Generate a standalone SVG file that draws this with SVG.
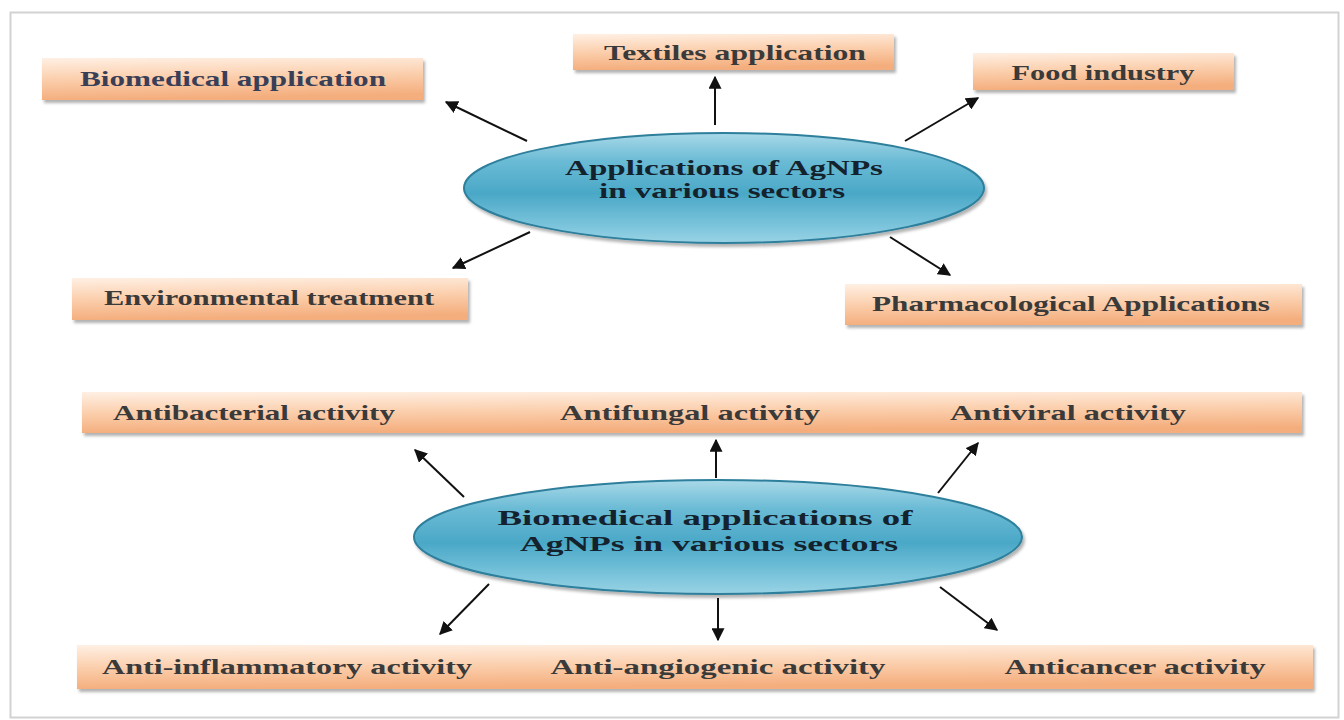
<svg xmlns="http://www.w3.org/2000/svg" width="1344" height="720" viewBox="0 0 1344 720">
<defs>
<linearGradient id="boxg" x1="0" y1="0" x2="0.15" y2="1">
<stop offset="0" stop-color="#fff0e4"/>
<stop offset="0.5" stop-color="#fbcfad"/>
<stop offset="1" stop-color="#f4ad7c"/>
</linearGradient>
<linearGradient id="ellg" x1="0" y1="0" x2="0" y2="1">
<stop offset="0" stop-color="#a9d9e8"/>
<stop offset="0.25" stop-color="#6bbbd5"/>
<stop offset="0.55" stop-color="#4aa8c7"/>
<stop offset="0.85" stop-color="#7cc5dc"/>
<stop offset="1" stop-color="#9ad3e4"/>
</linearGradient>
<filter id="sh" x="-5%" y="-20%" width="110%" height="150%">
<feDropShadow dx="2" dy="3" stdDeviation="1.5" flood-color="#000" flood-opacity="0.3"/>
</filter>
<marker id="ah" viewBox="0 0 10 10" refX="9" refY="5" markerWidth="6.5" markerHeight="6.5" markerUnits="strokeWidth" orient="auto">
<path d="M0,0 L10,5 L0,10 z" fill="#111"/>
</marker>
<style>
.box{fill:url(#boxg);filter:url(#sh)}
.ell{fill:url(#ellg);stroke:#2f7f9c;stroke-width:2;filter:url(#sh)}
.t{font-family:"Liberation Serif","Times New Roman",serif;font-weight:bold;font-size:22px;fill:#3a3a3a;text-anchor:middle}
.et{font-family:"Liberation Serif","Times New Roman",serif;font-weight:bold;font-size:22px;fill:#14222e;text-anchor:middle}
.c line{stroke:#111;stroke-width:2;marker-end:url(#ah)}
</style>
</defs>
<rect x="0" y="0" width="1344" height="720" fill="#ffffff"/>
<rect x="10.5" y="12.5" width="1328" height="705" fill="#ffffff" stroke="#d2d2d2" stroke-width="2"/>

<g id="n-biomedical"><rect class="box" x="42" y="58" width="381" height="42"/><text class="t" x="233" y="86" textLength="306" lengthAdjust="spacingAndGlyphs" style="fill:#3a3f58">Biomedical application</text></g>
<g id="n-textiles"><rect class="box" x="573" y="34" width="321" height="36"/><text class="t" x="735" y="60" textLength="262" lengthAdjust="spacingAndGlyphs">Textiles application</text></g>
<g id="n-food"><rect class="box" x="973" y="53" width="261" height="37"/><text class="t" x="1103" y="80" textLength="183" lengthAdjust="spacingAndGlyphs">Food industry</text></g>
<g id="n-env"><rect class="box" x="72" y="278" width="396" height="42"/><text class="t" x="269" y="305" textLength="330" lengthAdjust="spacingAndGlyphs">Environmental treatment</text></g>
<g id="n-pharma"><rect class="box" x="845" y="284" width="457" height="41"/><text class="t" x="1071" y="311" textLength="398" lengthAdjust="spacingAndGlyphs">Pharmacological Applications</text></g>

<g id="n-center1"><ellipse class="ell" cx="724" cy="188" rx="260" ry="55"/><text class="et" x="724" y="175" textLength="318" lengthAdjust="spacingAndGlyphs">Applications of AgNPs</text><text class="et" x="722" y="198" textLength="246" lengthAdjust="spacingAndGlyphs">in various sectors</text></g>

<g id="n-row1"><rect class="box" x="82" y="392" width="1220" height="41"/>
<text class="t" x="254" y="420" textLength="282" lengthAdjust="spacingAndGlyphs">Antibacterial activity</text>
<text class="t" x="690" y="420" textLength="260" lengthAdjust="spacingAndGlyphs">Antifungal activity</text>
<text class="t" x="1068" y="420" textLength="236" lengthAdjust="spacingAndGlyphs">Antiviral activity</text></g>

<g id="n-center2"><ellipse class="ell" cx="718" cy="537" rx="304" ry="57"/><text class="et" x="705" y="525" textLength="415" lengthAdjust="spacingAndGlyphs">Biomedical applications of</text><text class="et" x="709" y="551" textLength="378" lengthAdjust="spacingAndGlyphs">AgNPs in various sectors</text></g>

<g id="n-row2"><rect class="box" x="77" y="645" width="1236" height="44"/>
<text class="t" x="287" y="674" textLength="370" lengthAdjust="spacingAndGlyphs">Anti-inflammatory activity</text>
<text class="t" x="718" y="674" textLength="335" lengthAdjust="spacingAndGlyphs">Anti-angiogenic activity</text>
<text class="t" x="1135" y="674" textLength="261" lengthAdjust="spacingAndGlyphs">Anticancer activity</text></g>

<g id="connectors" class="c">
<line x1="527" y1="141" x2="446" y2="102"/>
<line x1="715" y1="125" x2="715" y2="77"/>
<line x1="905" y1="141" x2="978" y2="98"/>
<line x1="530" y1="232" x2="453" y2="268"/>
<line x1="890" y1="237" x2="950" y2="275"/>
<line x1="464" y1="497" x2="415" y2="450"/>
<line x1="716" y1="478" x2="716" y2="440"/>
<line x1="938" y1="493" x2="978" y2="443"/>
<line x1="489" y1="584" x2="440" y2="634"/>
<line x1="718" y1="598" x2="718" y2="640"/>
<line x1="940" y1="587" x2="997" y2="630"/>
</g>
</svg>
